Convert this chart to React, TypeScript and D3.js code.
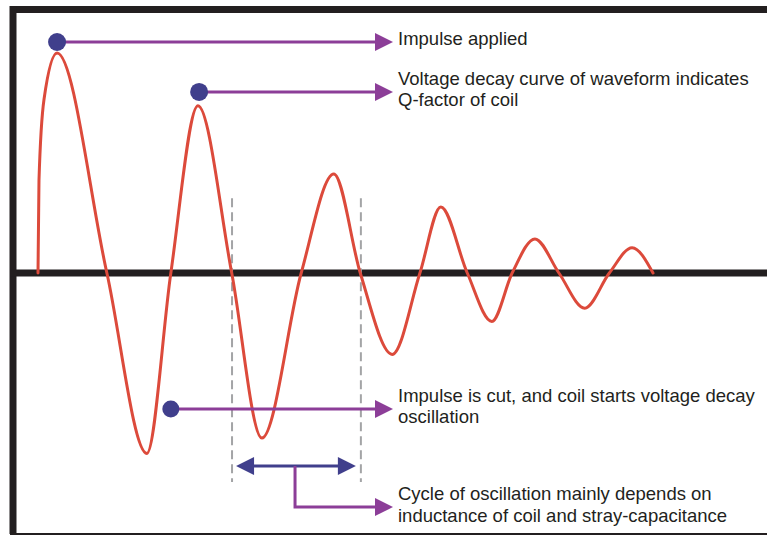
import React from 'react';
import * as d3 from 'd3';

// damped oscillation (time in arbitrary units, voltage normalised to first peak)
const times = [0, 0.16, 0.98, 3.1, 11.2, 17.7, 21.6, 26.0, 31.5, 36.4, 42.8, 48.1, 52.4, 57.6, 62.1, 65.5, 69.8, 73.8, 77.1, 80.8, 84.7, 88.9, 92.9, 96.6, 100];
const voltage = [0, 0.42, 0.79, 1.0, 0, -0.82, 0, 0.76, 0, -0.75, 0, 0.45, 0, -0.37, 0, 0.3, 0, -0.22, 0, 0.155, 0, -0.16, 0, 0.115, 0];

// annotation markers
const markerTimes = [3.1, 26.2, 21.6];
const markerVolts = [1.05, 0.823, -0.618];
const markerLabels = [
  ['Impulse applied'],
  ['Voltage decay curve of waveform indicates', 'Q-factor of coil'],
  ['Impulse is cut, and coil starts voltage decay', 'oscillation'],
];

// one cycle of oscillation
const cycleStart = 31.55;
const cycleEnd = 52.5;
const cycleLabel = ['Cycle of oscillation mainly depends on', 'inductance of coil and stray-capacitance'];

const W = 767;
const H = 536;
const RED = '#dc4a3b';
const PURPLE = '#8c3e98';
const NAVY = '#403f8c';
const INK = '#231f20';
const FONT = '"Liberation Sans", Arial, sans-serif';

const x = d3.scaleLinear().domain([0, 100]).range([38, 653]);
const y = d3.scaleLinear().domain([-1, 1]).range([493, 53]);

const arrowTipX = 393;
const textX = 398;

const rightArrow = (tx: number, ty: number, len = 18, half = 9) =>
  `M${tx},${ty}L${tx - len},${ty - half}L${tx - len},${ty + half}Z`;
const leftArrow = (tx: number, ty: number, len = 18, half = 9) =>
  `M${tx},${ty}L${tx + len},${ty - half}L${tx + len},${ty + half}Z`;

const Label = ({ lines, ay }: { lines: string[]; ay: number }) => {
  const first = lines.length === 1 ? ay + 3 : ay - 7;
  return (
    <text x={textX} fontFamily={FONT} fontSize={18.5} fill={INK}>
      {lines.map((l, i) => (
        <tspan key={i} x={textX} y={first + i * 21.5}>{l}</tspan>
      ))}
    </text>
  );
};

export default function App() {
  const pts: [number, number][] = times.map((t, i) => [t, voltage[i]]);
  const line = d3.line<[number, number]>()
    .x(d => x(d[0]))
    .y(d => y(d[1]))
    .curve(d3.curveMonotoneX);

  const zeroY = y(0);
  const dashTop = y(0.34);
  const dashBot = y(-0.95);
  const cycY = y(-0.877);
  const cx0 = x(cycleStart) + 4;
  const cx1 = x(cycleEnd) - 5;
  const stemX = x(cycleStart) + 63;
  const cycLabelY = y(-1.064);

  return (
    <svg width={W} height={H} style={{ position: 'absolute', left: 0, top: 0, background: '#fff' }}>
      {/* frame */}
      <line x1={10} x2={W} y1={9.5} y2={9.5} stroke={INK} strokeWidth={7} />
      <line x1={13} x2={13} y1={6} y2={H - 2} stroke={INK} strokeWidth={7} />
      <line x1={10} x2={W} y1={534} y2={534} stroke={INK} strokeWidth={2} />
      <line x1={10} x2={W} y1={zeroY} y2={zeroY} stroke={INK} strokeWidth={7} />

      {/* period guides */}
      {[cycleStart, cycleEnd].map((t, i) => (
        <line key={i} x1={x(t)} x2={x(t)} y1={dashTop} y2={dashBot}
          stroke="#a3a4a6" strokeWidth={2} strokeDasharray="9,5" />
      ))}

      <path d={line(pts) ?? ''} fill="none" stroke={RED} strokeWidth={3} strokeLinecap="round" />

      {/* markers with callouts */}
      {markerTimes.map((t, i) => {
        const mx = x(t);
        const my = y(markerVolts[i]);
        return (
          <g key={i}>
            <line x1={mx} x2={arrowTipX - 16} y1={my} y2={my} stroke={PURPLE} strokeWidth={3} />
            <path d={rightArrow(arrowTipX, my)} fill={PURPLE} />
            <ellipse cx={mx} cy={my} rx={i === 2 ? 8.5 : 9} ry={i === 2 ? 8.5 : 9} fill={NAVY} />
            <Label lines={markerLabels[i]} ay={my} />
          </g>
        );
      })}

      {/* cycle double arrow */}
      <line x1={cx0 + 14} x2={cx1 - 14} y1={cycY} y2={cycY} stroke={NAVY} strokeWidth={3} />
      <path d={leftArrow(cx0, cycY)} fill={NAVY} />
      <path d={rightArrow(cx1, cycY)} fill={NAVY} />
      <path d={`M${stemX},${cycY}V${cycLabelY}H${arrowTipX - 16}`} fill="none" stroke={PURPLE} strokeWidth={3} />
      <path d={rightArrow(arrowTipX, cycLabelY)} fill={PURPLE} />
      <Label lines={cycleLabel} ay={cycLabelY} />
    </svg>
  );
}
